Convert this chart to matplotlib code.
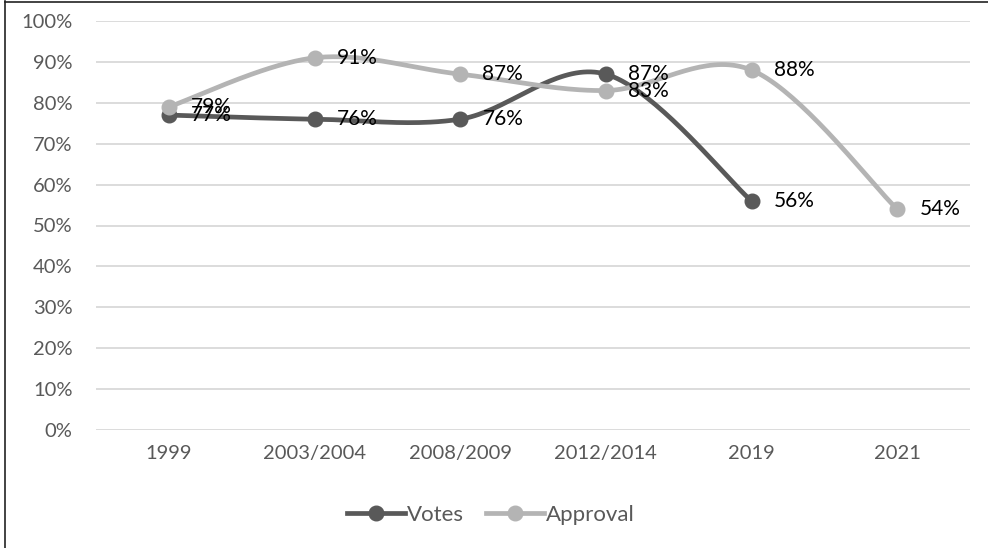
import numpy as np
import matplotlib
matplotlib.use("Agg")
import matplotlib.pyplot as plt
from matplotlib.lines import Line2D

categories = ["1999", "2003/2004", "2008/2009", "2012/2014", "2019", "2021"]
votes = [77, 76, 76, 87, 56]
approval = [79, 91, 87, 83, 88, 54]
yticks = list(range(0, 101, 10))

plt.rcParams['font.family'] = ['Lato', 'DejaVu Sans']

DARK = "#595959"
LIGHT = "#B4B4B4"
FS = 14.5


def smooth(xs, ys, n=40):
    xs = np.asarray(xs, float)
    ys = np.asarray(ys, float)
    P = np.column_stack([xs, ys])
    out = [P[0]]
    m = len(P)
    for i in range(m - 1):
        p0 = P[i - 1] if i > 0 else P[i]
        p1 = P[i]
        p2 = P[i + 1]
        p3 = P[i + 2] if i + 2 < m else P[i + 1]
        c1 = p1 + (p2 - p0) / 6.0
        c2 = p2 - (p3 - p1) / 6.0
        t = np.linspace(0, 1, n)[1:, None]
        seg = ((1 - t) ** 3) * p1 + 3 * ((1 - t) ** 2) * t * c1 + 3 * (1 - t) * t ** 2 * c2 + t ** 3 * p2
        out.extend(seg)
    out = np.array(out)
    return out[:, 0], out[:, 1]


fig = plt.figure(figsize=(9.88, 5.48), dpi=100)
ax = fig.add_axes([96 / 988, 1 - 430 / 548, (970 - 96) / 988, (430 - 21) / 548])

ax.set_xlim(-0.5, len(categories) - 0.5)
ax.set_ylim(0, 100)
ax.set_yticks(yticks)
ax.set_yticklabels([f"{v}%" for v in yticks])
ax.set_xticks(range(len(categories)))
ax.set_xticklabels(categories)
ax.grid(axis='y', color="#D9D9D9", linewidth=1.3)
ax.set_axisbelow(True)
for s in ax.spines.values():
    s.set_visible(False)
ax.tick_params(length=0, labelsize=FS, colors=DARK)
ax.tick_params(axis='y', pad=17)
ax.tick_params(axis='x', pad=11)

lw = 3.4
for vals, col in [(votes, DARK), (approval, LIGHT)]:
    xs = np.arange(len(vals))
    sx, sy = smooth(xs, vals)
    ax.plot(sx, sy, color=col, lw=lw, solid_capstyle='round', zorder=3)
    ax.plot(xs, vals, 'o', color=col, markersize=10.5, zorder=4)

for vals in [votes, approval]:
    for i, v in enumerate(vals):
        ax.annotate(f"{v}%", (i, v), xytext=(16, 0), textcoords='offset points',
                    ha='left', va='center', fontsize=15, color='black', zorder=5)

handles = [Line2D([], [], color=DARK, lw=lw, marker='o', markersize=10.5),
           Line2D([], [], color=LIGHT, lw=lw, marker='o', markersize=10.5)]
fig.legend(handles, ["Votes", "Approval"], loc='center', bbox_to_anchor=(0.497, 1 - 515 / 548),
           ncol=2, frameon=False, fontsize=16, labelcolor=DARK, handlelength=2.6,
           columnspacing=1.0, handletextpad=0.1)

# figure border (left and top visible)
fig.add_artist(Line2D([5 / 988, 5 / 988], [0, 1 - 1 / 548], transform=fig.transFigure, color='#222222', lw=1.2))
fig.add_artist(Line2D([5 / 988, 1], [1 - 1.5 / 548, 1 - 1.5 / 548], transform=fig.transFigure, color='#222222', lw=1.2))

fig.savefig("out.png", dpi=100)
